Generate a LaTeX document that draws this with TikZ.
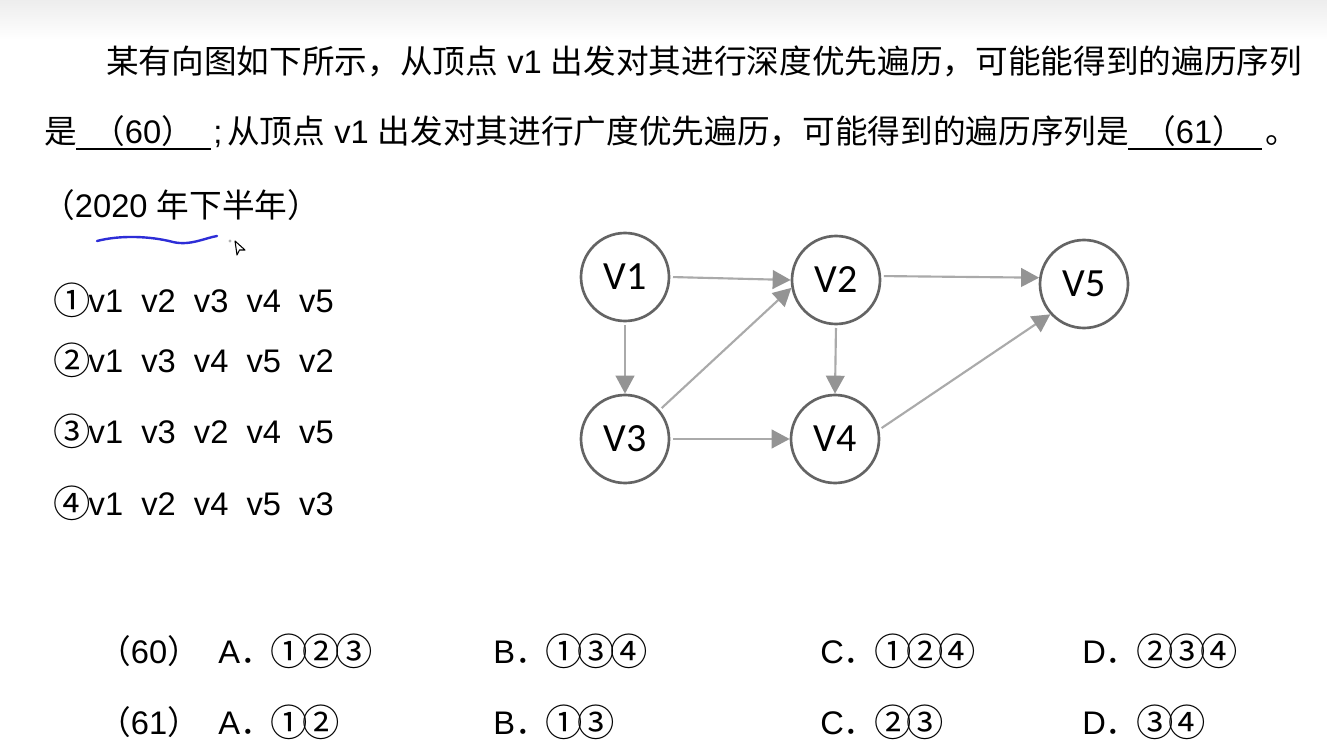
\documentclass[tikz,border=0pt]{standalone}
\usepackage{fontspec}
\setmainfont{Liberation Sans}
\newfontfamily\cjk{Noto Sans CJK SC}
\newfontfamily\calib{Carlito}
\usetikzlibrary{arrows.meta}
\newcommand{\zh}[1]{{\cjk #1}}
\newcommand{\cnum}[1]{\raisebox{-2.2pt}{\makebox[24.3pt][c]{\fontsize{28pt}{30pt}\cjk #1}}}
\definecolor{ringgray}{RGB}{100,100,100}
\definecolor{edgegray}{RGB}{170,170,170}
\definecolor{headgray}{RGB}{148,148,148}
\definecolor{penblue}{RGB}{45,45,215}
\tikzset{
  txt/.style={anchor=base west, inner sep=0pt, font=\fontsize{24.5pt}{30pt}\selectfont},
  vert/.style={circle, draw=ringgray, line width=2pt, minimum size=66pt, inner sep=0pt,
    font=\calib\fontsize{30pt}{36pt}\selectfont},
  edge/.style={draw=edgegray, line width=1.6pt, shorten <=2pt,
    -{Triangle[length=13.5pt,width=14pt,color=headgray]}},
}
\begin{document}
\begin{tikzpicture}[x=0.75pt,y=0.75pt,yscale=-1,xscale=1]
\useasboundingbox (0,0) rectangle (1327,752);
\fill[white] (0,0) rectangle (1327,752);
\shade[top color=gray!14, bottom color=white] (0,0) rectangle (1327,40);

% Text Node
\node[txt] (line1) at (106,73.5) {\zh{某有向图如下所示，从顶点} v1 \zh{出发对其进行深度优先遍历，可能能得到的遍历序列}};
% Text Node
\node[txt] (shi) at (44,143.5) {\zh{是}};
\node[txt] (blank60) at (92,143.5) {\zh{（}60\zh{）}};
\node[txt] (semi) at (213,143.5) {;};
\node[txt] (line2) at (227,143.5) {\zh{从顶点} v1 \zh{出发对其进行广度优先遍历，可能得到的遍历序列是}};
\node[txt] (blank61) at (1143,143.5) {\zh{（}61\zh{）}};
\node[txt] (stop) at (1265,143.5) {\zh{。}};
\draw[line width=1.5pt] (76,149) -- (211,149);
\draw[line width=1.5pt] (1128,149) -- (1262,149);
% Text Node
\node[txt] (year) at (42,218) {\zh{（}2020 \zh{年下半年）}};

%Curve Lines
\draw[penblue, line width=1.8pt, line cap=round] (97,241) .. controls (120,235) and (150,236) .. (173,242) .. controls (190,246) and (205,238) .. (217,236);
%Shape: Circle
\fill[gray!60] (230,241) circle (1.6);
%Cursor
\draw[line width=0.8pt, line join=round] (235,241) -- (245,250) -- (239.5,250) -- (237,255) -- cycle;

% Text Node
\node[txt] (seq1) at (56,312) {\cnum{①}v1\ \ v2\ \ v3\ \ v4\ \ v5};
\node[txt] (seq2) at (56,372) {\cnum{②}v1\ \ v3\ \ v4\ \ v5\ \ v2};
\node[txt] (seq3) at (56,443) {\cnum{③}v1\ \ v3\ \ v2\ \ v4\ \ v5};
\node[txt] (seq4) at (56,515) {\cnum{④}v1\ \ v2\ \ v4\ \ v5\ \ v3};

%Shape: Circle
\node[vert] (v1) at (625,277) {V1};
\node[vert] (v2) at (836,280) {V2};
\node[vert] (v5) at (1084,284) {V5};
\node[vert] (v3) at (625,439) {V3};
\node[vert] (v4) at (835,439) {V4};

%Straight Lines
\draw[edge] (v1.east) -- (v2.west);
\draw[edge] (v1.south) -- (v3.north);
\draw[edge] (v3.40) -- (v2.190);
\draw[edge] (v2.5) -- (v5.172);
\draw[edge] (v2.south) -- (v4.north);
\draw[edge] (v3.east) -- (v4.west);
\draw[edge] (v4.12) -- (v5.222);

% Text Node
\node[txt] (q60) at (98,663) {\zh{（}60\zh{）}};
\node[txt] (a60) at (218,663) {A\zh{．}\cnum{①}\cnum{②}\cnum{③}};
\node[txt] (b60) at (493,663) {B\zh{．}\cnum{①}\cnum{③}\cnum{④}};
\node[txt] (c60) at (820,663) {C\zh{．}\cnum{①}\cnum{②}\cnum{④}};
\node[txt] (d60) at (1082,663) {D\zh{．}\cnum{②}\cnum{③}\cnum{④}};
% Text Node
\node[txt] (q61) at (98,734) {\zh{（}61\zh{）}};
\node[txt] (a61) at (218,734) {A\zh{．}\cnum{①}\cnum{②}};
\node[txt] (b61) at (493,734) {B\zh{．}\cnum{①}\cnum{③}};
\node[txt] (c61) at (820,734) {C\zh{．}\cnum{②}\cnum{③}};
\node[txt] (d61) at (1082,734) {D\zh{．}\cnum{③}\cnum{④}};
\end{tikzpicture}
\end{document}
